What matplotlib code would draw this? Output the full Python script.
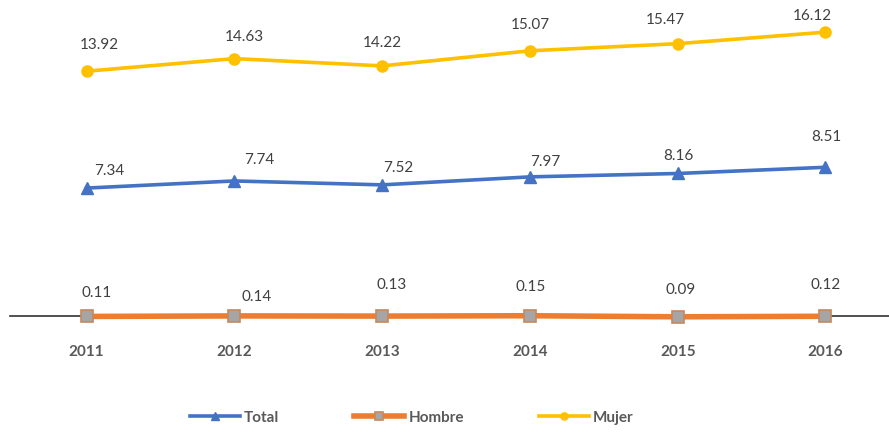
import matplotlib.pyplot as plt

years = ["2011", "2012", "2013", "2014", "2015", "2016"]
total = [7.34, 7.74, 7.52, 7.97, 8.16, 8.51]
hombre = [0.11, 0.14, 0.13, 0.15, 0.09, 0.12]
mujer = [13.92, 14.63, 14.22, 15.07, 15.47, 16.12]

# label offsets in pixels (dx, dy)
off_total = [(23, 17), (25, 21), (16, 17), (15, 15), (1, 17), (1, 30)]
off_hombre = [(10, 23), (22, 19), (9, 31), (1, 29), (3, 27), (0, 31)]
off_mujer = [(13, 26), (10, 22), (0, 23), (0, 26), (-12, 24), (-13, 16)]

plt.rcParams['font.family'] = ['Lato', 'DejaVu Sans']

fig = plt.figure(figsize=(8.89, 4.33), dpi=100)
ax = fig.add_axes([0.011, 0.27, 0.989, 0.73])
x = list(range(len(years)))

ax.plot(x, total, color="#4472C4", lw=2.6, marker="^", ms=9, label="Total", clip_on=False)
ax.plot(x, hombre, color="#ED7D31", lw=4, marker="s", ms=9, clip_on=False, zorder=3,
        markerfacecolor="#A5A5A5", markeredgecolor="#C8875A", markeredgewidth=1.2, label="Hombre")
ax.plot(x, mujer, color="#FFC000", lw=2.6, marker="o", ms=8, label="Mujer", clip_on=False)

for vals, offs in [(total, off_total), (hombre, off_hombre), (mujer, off_mujer)]:
    for i, v in enumerate(vals):
        ax.annotate(f"{v:.2f}", (i, v), xytext=offs[i], textcoords="offset pixels",
                    ha="center", va="center", fontsize=11, color="#404040",
                    annotation_clip=False)

ax.set_xlim(-0.52, 5.43)
ax.set_ylim(0.13, 17.93)
for s in ["top", "right", "left"]:
    ax.spines[s].set_visible(False)
ax.spines["bottom"].set_color("#333333")
ax.spines["bottom"].set_linewidth(1.2)
ax.spines["bottom"].set_zorder(1)
ax.set_yticks([])
ax.set_xticks(x)
ax.set_xticklabels(years, fontsize=11, fontweight="bold", color="#595959")
ax.tick_params(axis="x", length=0, pad=21)

fig.legend(loc="center", bbox_to_anchor=(0.463, 0.035), ncol=3, frameon=False,
           handlelength=3.3, columnspacing=4.9, handletextpad=0.25, markerscale=0.65,
           prop={"size": 11, "weight": "bold"}, labelcolor="#595959")

fig.savefig("out.png", dpi=100)
